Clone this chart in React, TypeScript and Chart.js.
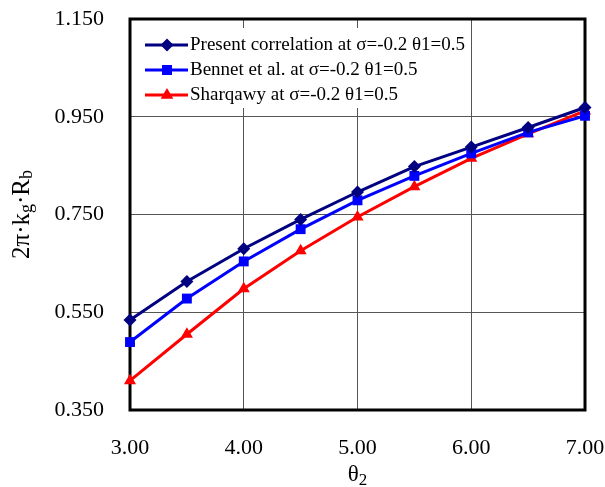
import React, { useEffect, useRef } from "react";
import { Chart, registerables } from "chart.js";

Chart.register(...registerables);

const theta2 = [3.0, 3.5, 4.0, 4.5, 5.0, 5.5, 6.0, 6.5, 7.0];
const presentVals = [0.534, 0.613, 0.680, 0.740, 0.796, 0.848, 0.888, 0.928, 0.969];
const bennetVals = [0.489, 0.578, 0.654, 0.720, 0.779, 0.829, 0.875, 0.918, 0.952];
const sharqawyVals = [0.410, 0.505, 0.598, 0.676, 0.745, 0.807, 0.865, 0.915, 0.962];
const seriesNames = [
  "Present correlation at σ=-0.2 θ1=0.5",
  "Bennet et al. at σ=-0.2 θ1=0.5",
  "Sharqawy at σ=-0.2 θ1=0.5",
];
const seriesColors = ["#000080", "#0000FF", "#FF0000"];
const seriesMarkers = ["rectRot", "rect", "triangle"];

const FONT = '"Liberation Serif", "Times New Roman", serif';

function drawMarker(ctx: CanvasRenderingContext2D, style: string, x: number, y: number, color: string) {
  ctx.save();
  ctx.fillStyle = color;
  ctx.beginPath();
  if (style === "rectRot") {
    const r = 6.5;
    ctx.moveTo(x, y - r);
    ctx.lineTo(x + r, y);
    ctx.lineTo(x, y + r);
    ctx.lineTo(x - r, y);
  } else if (style === "rect") {
    const s = 5;
    ctx.rect(x - s, y - s, 2 * s, 2 * s);
  } else {
    const r = 7;
    ctx.moveTo(x, y - r);
    ctx.lineTo(x + r * 0.9, y + r * 0.55);
    ctx.lineTo(x - r * 0.9, y + r * 0.55);
  }
  ctx.closePath();
  ctx.fill();
  ctx.restore();
}

const customPlugin = {
  id: "customDecor",
  beforeDatasetsDraw(chart: any) {
    const { ctx, chartArea } = chart;
    const L = chartArea.left;
    const T = chartArea.top;
    ctx.save();
    // legend box
    ctx.fillStyle = "#ffffff";
    ctx.fillRect(L + 2, T + 9, 335, 80);
    const rows = [T + 26, T + 51, T + 76];
    for (let i = 0; i < 3; i++) {
      const y = rows[i];
      ctx.strokeStyle = seriesColors[i];
      ctx.lineWidth = 3;
      ctx.beginPath();
      ctx.moveTo(L + 15, y);
      ctx.lineTo(L + 58, y);
      ctx.stroke();
      drawMarker(ctx, seriesMarkers[i], L + 37, y, seriesColors[i]);
      ctx.fillStyle = "#000";
      ctx.font = "19px " + FONT;
      ctx.textBaseline = "middle";
      ctx.textAlign = "left";
      ctx.fillText(seriesNames[i], L + 60, y);
    }
    // frame
    ctx.strokeStyle = "#000";
    ctx.lineWidth = 3;
    ctx.strokeRect(chartArea.left, chartArea.top, chartArea.right - chartArea.left, chartArea.bottom - chartArea.top);
    ctx.restore();
  },
  afterDraw(chart: any) {
    const { ctx, chartArea } = chart;
    ctx.save();
    ctx.fillStyle = "#000";
    // y-axis title with subscripts
    const cy = (chartArea.top + chartArea.bottom) / 2;
    ctx.translate(22, cy);
    ctx.rotate(-Math.PI / 2);
    const parts: [string, boolean][] = [["2π·k", false], ["g", true], ["·R", false], ["b", true]];
    const big = "25px " + FONT;
    const small = "18px " + FONT;
    let total = 0;
    for (const [t, sub] of parts) {
      ctx.font = sub ? small : big;
      total += ctx.measureText(t).width;
    }
    let x = -total / 2;
    ctx.textBaseline = "middle";
    ctx.textAlign = "left";
    for (const [t, sub] of parts) {
      ctx.font = sub ? small : big;
      ctx.fillText(t, x, sub ? 5 : 0);
      x += ctx.measureText(t).width;
    }
    ctx.restore();

    // x-axis title θ2
    ctx.save();
    ctx.fillStyle = "#000";
    const cx = (chartArea.left + chartArea.right) / 2;
    ctx.textBaseline = "middle";
    ctx.textAlign = "left";
    const xbig = "23px " + FONT;
    const xsmall = "17px " + FONT;
    ctx.font = xbig;
    const w1 = ctx.measureText("θ").width;
    ctx.font = xsmall;
    const w2 = ctx.measureText("2").width;
    const sx = cx - (w1 + w2) / 2;
    ctx.font = xbig;
    ctx.fillText("θ", sx, 475);
    ctx.font = xsmall;
    ctx.fillText("2", sx + w1, 481);
    ctx.restore();
  },
};

export default function App() {
  const ref = useRef<HTMLCanvasElement | null>(null);
  useEffect(() => {
    if (!ref.current) return;
    const mk = (vals: number[]) => theta2.map((x, i) => ({ x, y: vals[i] }));
    const allVals = [presentVals, bennetVals, sharqawyVals];
    const chart = new Chart(ref.current, {
      type: "line",
      data: {
        datasets: allVals.map((vals, i) => ({
          label: seriesNames[i],
          data: mk(vals),
          borderColor: seriesColors[i],
          backgroundColor: seriesColors[i],
          borderWidth: 3,
          pointStyle: seriesMarkers[i] as any,
          pointRadius: i === 0 ? 6.5 : 7,
          pointBorderWidth: 0,
          fill: false,
          tension: 0,
          clip: false as any,
        })),
      },
      options: {
        responsive: false,
        animation: false,
        layout: { padding: { left: 0, top: 19, right: 20, bottom: 0 } },
        plugins: {
          legend: { display: false },
          tooltip: { enabled: false },
        },
        scales: {
          x: {
            type: "linear",
            min: 3,
            max: 7,
            ticks: {
              stepSize: 1,
              padding: 25,
              color: "#000",
              font: { family: FONT, size: 22 },
              callback: (v: any) => Number(v).toFixed(2),
            },
            grid: { color: "#555", lineWidth: 1, drawTicks: false },
            border: { display: false },
            afterFit: (s: any) => {
              s.height = 77;
              s.paddingLeft = 0;
              s.paddingRight = 0;
              s.paddingTop = 0;
              s.paddingBottom = 0;
            },
          },
          y: {
            type: "linear",
            min: 0.35,
            max: 1.15,
            ticks: {
              stepSize: 0.2,
              padding: 26,
              color: "#000",
              font: { family: FONT, size: 22 },
              callback: (v: any) => Number(v).toFixed(3),
            },
            grid: { color: "#555", lineWidth: 1, drawTicks: false },
            border: { display: false },
            afterFit: (s: any) => {
              s.width = 130;
              s.paddingLeft = 0;
              s.paddingRight = 0;
              s.paddingTop = 0;
              s.paddingBottom = 0;
            },
          },
        },
      },
      plugins: [customPlugin],
    });
    return () => chart.destroy();
  }, []);
  return (
    <div style={{ position: "fixed", left: 0, top: 0, width: 605, height: 487, background: "#fff" }}>
      <canvas ref={ref} width={605} height={487} style={{ width: 605, height: 487 }} />
    </div>
  );
}
